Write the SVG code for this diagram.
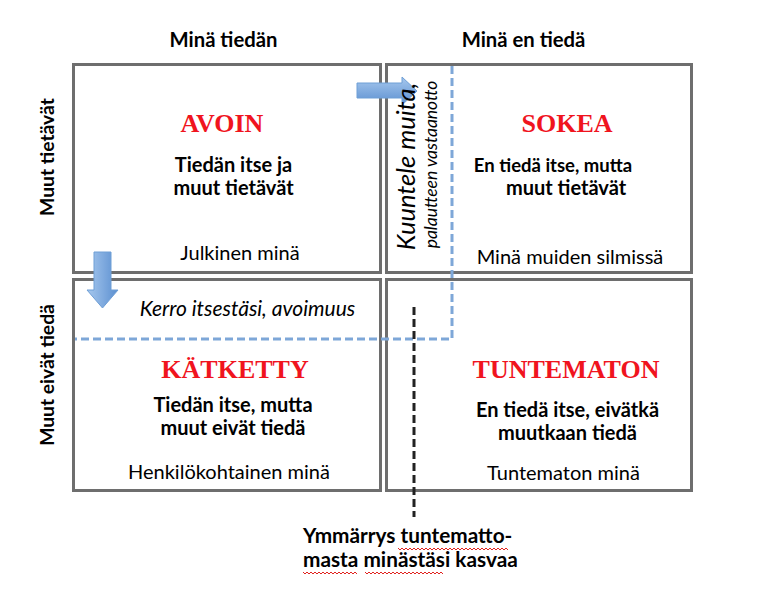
<svg xmlns="http://www.w3.org/2000/svg" width="772" height="608" viewBox="0 0 772 608">
<style>
  .box { fill: #ffffff; stroke: #6e6e6e; stroke-width: 3; }
  .t { font-family: Lato, "Liberation Sans", sans-serif; fill: #000; }
  .b { font-weight: bold; }
  .i { font-style: italic; }
  .hd { font-size: 20.3px; }
  .side { font-size: 19.3px; }
  .body { font-size: 20px; }
  .reg { font-size: 20px; }
  .title { font-family: "Liberation Serif", serif; font-weight: bold; font-size: 26px; fill: #f0141e; }
  .blue { fill: none; stroke: #7ea7d8; stroke-width: 3; stroke-dasharray: 8 4; }
  .black { fill: none; stroke: #222; stroke-width: 3; stroke-dasharray: 8 4; }
  .arrow { stroke: #6f9fd6; stroke-width: 1; }
  .squig { fill: none; stroke: #e0221e; stroke-width: 1; }
</style>
<defs>
  <linearGradient id="ag" x1="0" y1="0" x2="0" y2="1">
    <stop offset="0" stop-color="#a7c8ee"/>
    <stop offset="1" stop-color="#5b8fd0"/>
  </linearGradient>
  <linearGradient id="agv" x1="0" y1="0" x2="1" y2="0">
    <stop offset="0" stop-color="#a7c8ee"/>
    <stop offset="1" stop-color="#5b8fd0"/>
  </linearGradient>
</defs>
<rect width="772" height="608" fill="#ffffff"/>

<text class="t b hd" x="223.5" y="47" text-anchor="middle">Minä tiedän</text>
<text class="t b hd" x="523.5" y="47" text-anchor="middle">Minä en tiedä</text>
<text class="t b side" transform="translate(54,157) rotate(-90)" text-anchor="middle">Muut tietävät</text>
<text class="t b side" transform="translate(54,375) rotate(-90)" text-anchor="middle">Muut eivät tiedä</text>

<g id="avoin">
  <rect class="box" x="73.5" y="64.5" width="307" height="208"/>
  <text class="title" x="222" y="132" text-anchor="middle">AVOIN</text>
  <text class="t b body" x="233.5" y="172" text-anchor="middle">Tiedän itse ja</text>
  <text class="t b body" x="233.5" y="195" text-anchor="middle">muut tietävät</text>
  <text class="t reg" x="240" y="260" text-anchor="middle">Julkinen minä</text>
</g>
<g id="sokea">
  <rect class="box" x="386.5" y="64.5" width="305" height="208"/>
  <text class="title" x="567" y="132" text-anchor="middle">SOKEA</text>
  <text class="t b" font-size="18.5" x="553" y="172" text-anchor="middle">En tiedä itse, mutta</text>
  <text class="t b body" x="566" y="195" text-anchor="middle">muut tietävät</text>
  <text class="t reg" x="570" y="264" text-anchor="middle">Minä muiden silmissä</text>
</g>
<g id="katketty">
  <rect class="box" x="73.5" y="279.5" width="307" height="211"/>
  <text class="title" x="235" y="378" text-anchor="middle">KÄTKETTY</text>
  <text class="t b body" x="233" y="412" text-anchor="middle">Tiedän itse, mutta</text>
  <text class="t b body" x="233" y="435" text-anchor="middle">muut eivät tiedä</text>
  <text class="t reg" x="229" y="479" text-anchor="middle">Henkilökohtainen minä</text>
</g>
<g id="tuntematon">
  <rect class="box" x="386.5" y="279.5" width="305" height="211"/>
  <text class="title" x="566" y="378" text-anchor="middle">TUNTEMATON</text>
  <text class="t b body" x="567.5" y="417" text-anchor="middle">En tiedä itse, eivätkä</text>
  <text class="t b body" x="567.5" y="440" text-anchor="middle">muutkaan tiedä</text>
  <text class="t reg" x="563.5" y="480" text-anchor="middle">Tuntematon minä</text>
</g>

<g id="connectors">
  <path class="blue" d="M452,66 V339 H75"/>
  <path class="black" d="M414,307 V517"/>
  <polygon class="arrow" fill="url(#ag)" points="357,83 402,83 402,77 417,91 402,105 402,98 357,98"/>
  <polygon class="arrow" fill="url(#agv)" points="94,252 111,252 111,290 118,290 102.5,308 87,290 94,290"/>
</g>

<g id="labels">
  <text class="t i" font-size="25.5" transform="translate(415,166.5) rotate(-90)" text-anchor="middle">Kuuntele muita,</text>
  <text class="t i" font-size="17.5" transform="translate(437,164.5) rotate(-90)" text-anchor="middle">palautteen vastaanotto</text>
  <text class="t i" font-size="21" x="247.5" y="316" text-anchor="middle">Kerro itsestäsi, avoimuus</text>
</g>

<g id="note">
  <text class="t b" font-size="20.8" x="303" y="543">Ymmärrys tuntematto-</text>
  <text class="t b" font-size="20.8" x="303" y="567">masta minästäsi kasvaa</text>
  <path class="squig" d="M398,548 l2,2 l2,-2 l2,2 l2,-2 l2,2 l2,-2 l2,2 l2,-2 l2,2 l2,-2 l2,2 l2,-2 l2,2 l2,-2 l2,2 l2,-2 l2,2 l2,-2 l2,2 l2,-2 l2,2 l2,-2 l2,2 l2,-2 l2,2 l2,-2 l2,2 l2,-2 l2,2 l2,-2 l2,2 l2,-2 l2,2 l2,-2 l2,2 l2,-2 l2,2 l2,-2 l2,2 l2,-2 l2,2 l2,-2 l2,2 l2,-2 l2,2 l2,-2 l2,2 l2,-2 l2,2 l2,-2 l2,2 l2,-2 l2,2 l2,-2 l2,2"/>
  <path class="squig" d="M303,572 l2,2 l2,-2 l2,2 l2,-2 l2,2 l2,-2 l2,2 l2,-2 l2,2 l2,-2 l2,2 l2,-2 l2,2 l2,-2 l2,2 l2,-2 l2,2 l2,-2 l2,2 l2,-2 l2,2 l2,-2 l2,2 l2,-2 l2,2 l2,-2 l2,2"/>
  <path class="squig" d="M365,572 l2,2 l2,-2 l2,2 l2,-2 l2,2 l2,-2 l2,2 l2,-2 l2,2 l2,-2 l2,2 l2,-2 l2,2 l2,-2 l2,2 l2,-2 l2,2 l2,-2 l2,2 l2,-2 l2,2 l2,-2 l2,2 l2,-2 l2,2 l2,-2 l2,2 l2,-2 l2,2 l2,-2 l2,2 l2,-2 l2,2 l2,-2 l2,2 l2,-2 l2,2 l2,-2 l2,2"/>
</g>
</svg>
